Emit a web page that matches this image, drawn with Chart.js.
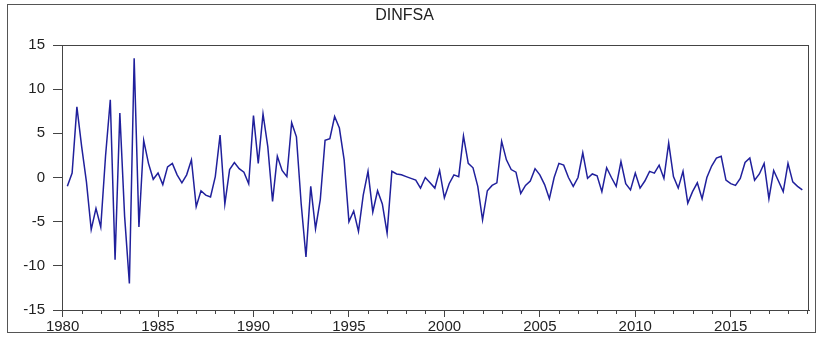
<!DOCTYPE html>
<html>
<head>
<meta charset="utf-8">
<script src="https://cdn.jsdelivr.net/npm/chart.js@4.4.1/dist/chart.umd.min.js"></script>
<style>
    body { margin: 0; background: #ffffff; }
    #marco { position: absolute; left: 7px; top: 4px; width: 809px; height: 329px; border: 1px solid #555; box-sizing: border-box; }
    #contenedor { position: absolute; left: 0; top: 0; width: 818px; height: 338px; }
</style>
</head>
<body>
<div id="marco"></div>
<div id="contenedor"><canvas id="chart1" width="818" height="338"></canvas></div>
<script>
// Primer trimestre de la serie (la serie es diferenciada, empieza en 1980Q2).
const ANIO_INICIO = 1980;
const TRIMESTRE_INICIO = 2;

// Valores, por decada.
const dinfsa1980s = [
    -1.0, 0.5, 8.0,
    3.5, -0.5, -5.9, -3.5,
    -5.6, 2.4, 8.8, -9.3,
    7.3, -4.4, -12.0, 13.5,
    -5.6, 4.2, 1.6, -0.2,
    0.5, -0.8, 1.2, 1.6,
    0.3, -0.6, 0.3, 2.0,
    -3.3, -1.5, -2.0, -2.2,
    0.1, 4.8, -3.0, 0.9,
    1.7, 1.0, 0.6, -0.7
];
const dinfsa1990s = [
    7.0, 1.6, 7.2, 3.5,
    -2.7, 2.4, 0.8, 0.1,
    6.2, 4.6, -3.0, -9.0,
    -1.0, -5.8, -2.5, 4.2,
    4.4, 6.9, 5.6, 2.0,
    -5.0, -3.8, -6.1, -2.0,
    0.7, -3.9, -1.5, -3.0,
    -6.3, 0.7, 0.4, 0.3,
    0.1, -0.1, -0.3, -1.2,
    0.0, -0.6, -1.2, 0.8
];
const dinfsa2000s = [
    -2.3, -0.7, 0.3, 0.1,
    4.7, 1.6, 1.1, -1.0,
    -4.8, -1.5, -0.9, -0.6,
    4.1, 2.0, 0.9, 0.6,
    -1.8, -0.9, -0.4, 1.0,
    0.3, -0.8, -2.4, 0.0,
    1.6, 1.4, 0.0, -1.0,
    0.0, 2.8, -0.1, 0.4,
    0.2, -1.6, 1.1, 0.0,
    -1.0, 1.8, -0.7, -1.4
];
const dinfsa2010s = [
    0.5, -1.2, -0.4, 0.7,
    0.5, 1.4, -0.1, 3.9,
    0.1, -1.2, 0.7, -2.9,
    -1.6, -0.6, -2.4, 0.0,
    1.3, 2.2, 2.4, -0.3,
    -0.7, -0.9, -0.1, 1.7,
    2.2, -0.3, 0.4, 1.6,
    -2.4, 0.8, -0.4, -1.6,
    1.6, -0.5, -1.0, -1.4
];

// Etiquetas de los ejes.
const etiquetasY = [-15, -10, -5, 0, 5, 10, 15];
const etiquetasX = [1980, 1985, 1990, 1995, 2000, 2005, 2010, 2015];
const TITULO = 'DINFSA';

// Se arma la serie con su fecha (anio + fraccion del trimestre).
const valores = [].concat(dinfsa1980s, dinfsa1990s, dinfsa2000s, dinfsa2010s);
const puntos = valores.map((v, i) => ({ x: ANIO_INICIO + (TRIMESTRE_INICIO - 1 + i) / 4, y: v }));

const FUENTE = { family: 'Liberation Sans, Arial, sans-serif', size: 15 };
const COLOR_TEXTO = '#222';
const COLOR_EJE = '#444';

// Marco del area del grafico y marcas menores de cada anio.
const marcoPlugin = {
    id: 'marco',
    afterDraw(chart) {
        const { ctx, chartArea: a, scales } = chart;
        ctx.save();
        ctx.strokeStyle = COLOR_EJE;
        ctx.lineWidth = 1;
        ctx.strokeRect(a.left + 0.5, a.top + 0.5, a.right - a.left - 1, a.bottom - a.top);
        ctx.beginPath();
        scales.x.ticks.forEach(t => {
            if (t.value % 5 !== 0) {
                const px = Math.round(scales.x.getPixelForValue(t.value)) + 0.5;
                ctx.moveTo(px, a.bottom);
                ctx.lineTo(px, a.bottom + 4);
            }
        });
        ctx.stroke();
        ctx.restore();
    }
};

new Chart(document.getElementById('chart1'), {
    type: 'line',
    data: {
        datasets: [{
            data: puntos,
            borderColor: '#20209c',
            borderWidth: 1.5,
            pointRadius: 0,
            tension: 0,
            fill: false
        }]
    },
    options: {
        responsive: false,
        animation: false,
        layout: { padding: { left: 0, right: 9, top: 0, bottom: 0 } },
        plugins: {
            legend: { display: false },
            tooltip: { enabled: false },
            title: {
                display: true,
                text: TITULO,
                color: COLOR_TEXTO,
                font: { family: FUENTE.family, size: 16, weight: 'normal' },
                padding: { top: 6, bottom: 19.8 }
            }
        },
        scales: {
            x: {
                type: 'linear',
                min: 1979.97,
                max: 2019.1,
                afterBuildTicks: (scale) => {
                    const ticks = [];
                    for (let a = 1980; a <= 2019; a++) ticks.push({ value: a });
                    scale.ticks = ticks;
                },
                afterFit: (scale) => { scale.height = 28; },
                ticks: {
                    autoSkip: false,
                    maxRotation: 0,
                    padding: 1,
                    color: COLOR_TEXTO,
                    font: FUENTE,
                    callback: (v) => etiquetasX.includes(v) ? String(v) : ''
                },
                grid: {
                    drawOnChartArea: false,
                    drawTicks: true,
                    tickLength: 7,
                    tickColor: (c) => (c.tick && c.tick.value % 5 === 0) ? COLOR_EJE : 'rgba(0,0,0,0)'
                },
                border: { display: true, color: COLOR_EJE, width: 1 }
            },
            y: {
                min: -15,
                max: 15,
                afterBuildTicks: (scale) => { scale.ticks = etiquetasY.map(v => ({ value: v })); },
                afterFit: (scale) => { scale.width = 62; },
                ticks: {
                    padding: 8,
                    color: COLOR_TEXTO,
                    font: FUENTE
                },
                grid: {
                    drawOnChartArea: false,
                    drawTicks: true,
                    tickLength: 9,
                    tickColor: COLOR_EJE
                },
                border: { display: true, color: COLOR_EJE, width: 1 }
            }
        }
    },
    plugins: [marcoPlugin]
});
</script>
</body>
</html>
